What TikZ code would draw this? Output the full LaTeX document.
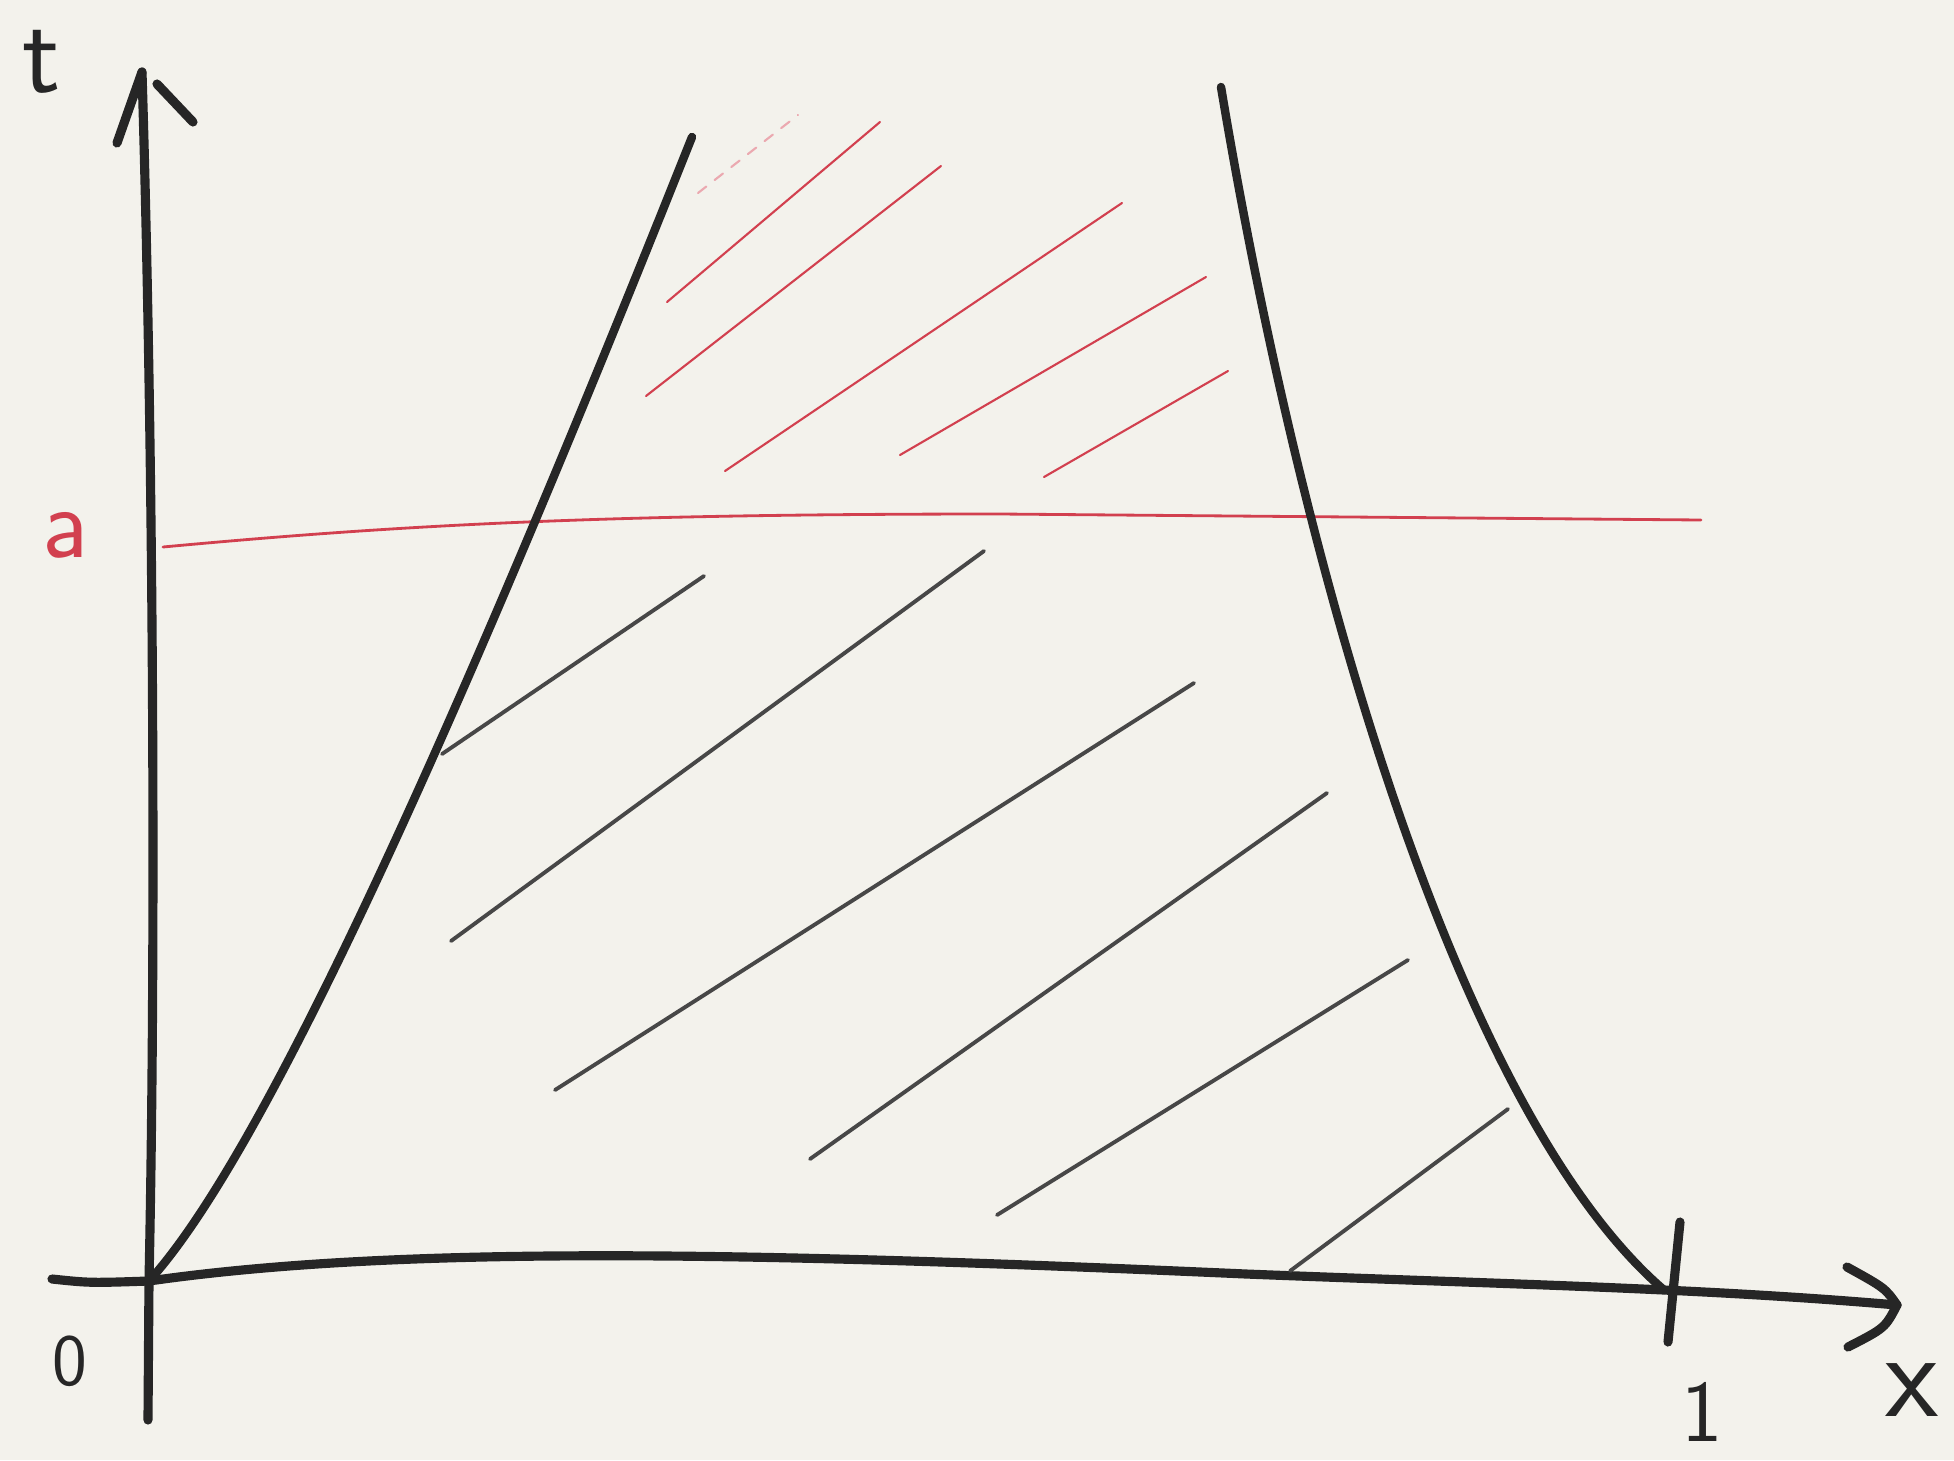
\documentclass[tikz,border=0pt]{standalone}
\usepackage{tikz}
\usetikzlibrary{arrows.meta}
\definecolor{paper}{HTML}{F3F2EC}
\definecolor{ink}{HTML}{262626}
\definecolor{redink}{HTML}{D2404F}

\begin{document}
\begin{tikzpicture}[x=0.01cm, y=-0.01cm,
  axis/.style={draw=ink, line width=2.6pt, line cap=round, line join=round},
  curve/.style={draw=ink, line width=2.4pt, line cap=round},
  hatch/.style={draw=ink!85, line width=1.1pt, line cap=round},
  redhatch/.style={draw=redink, line width=0.6pt, line cap=round},
  lab/.style={inner sep=0pt, text=ink, font=\sffamily}]
\fill[paper] (0,0) rectangle (1954,1460);
% axes
\coordinate (o) at (149,1281);
\coordinate (ttip) at (142,72);
\coordinate (xtip) at (1897,1305);
\draw[axis] (148,1420) -- (o) .. controls (157,900) and (152,400) .. (ttip);
\draw[axis] (117,143) -- (ttip);
\draw[axis] (157,84) -- (193,122);
\draw[axis] (52,1279) .. controls (90,1283) .. (o)
  .. controls (400,1245) and (750,1252) .. (1246,1274)
  .. controls (1500,1284) and (1700,1288) .. (xtip);
\draw[axis] (1847,1267) .. controls (1885,1288) .. (xtip)
  .. controls (1885,1328) .. (1848,1347);
\draw[axis] (1680,1222) -- (1668,1342);
\node[lab, font=\sffamily\fontsize{32}{32}\selectfont] (tlab) at (42,62) {t};
\node[lab, font=\sffamily\fontsize{21}{21}\selectfont] (zero) at (70,1361) {0};
\node[lab, font=\sffamily\fontsize{25}{25}\selectfont] (one) at (1702,1412) {1};
\node[lab, font=\sffamily\fontsize{35}{35}\selectfont] (xlab) at (1912,1390) {x};
% level t = a
\node[lab, text=redink, font=\sffamily\fontsize{29}{29}\selectfont] (alab) at (65,535) {a};
\coordinate (aleft) at (163,547);
\coordinate (aright) at (1701,520);
\draw[redhatch, line width=0.8pt] (aleft) .. controls (400,525) and (600,514)
  .. (1000,514) -- (aright);
% the two boundary curves
\draw[curve] (o) .. controls (250,1170) and (420,820) .. (692,137);
\draw[curve] (1221,87) .. controls (1300,560) and (1455,1110) .. (1664,1290);
% hatching below a
\foreach \p/\q in {{442,754}/{704,576}, {451,941}/{984,551},
  {555,1090}/{1194,683}, {810,1159}/{1327,793},
  {997,1215}/{1408,960}, {1290,1271}/{1508,1109}}
  \draw[hatch] (\p) -- (\q);
% hatching above a
\draw[redhatch, draw=redink!45, dashed] (698,193) -- (798,115);
\foreach \p/\q in {{667,302}/{880,122}, {646,396}/{941,166},
  {725,471}/{1122,203}, {900,455}/{1206,277}, {1044,477}/{1228,371}}
  \draw[redhatch] (\p) -- (\q);
\end{tikzpicture}
\end{document}
